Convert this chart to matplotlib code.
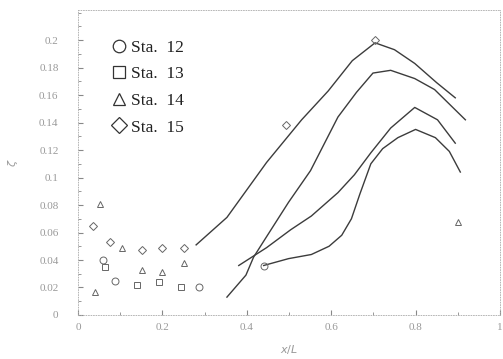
import numpy as np
import matplotlib.pyplot as plt
import matplotlib as mpl
from matplotlib.ticker import MultipleLocator

mpl.rcParams.update({'font.family': 'serif', 'font.serif': ['Liberation Serif'], 'font.size': 8})

# --- data (x/L, value) ---
# curves (right-hand part)
x12 = [0.44, 0.499, 0.553, 0.595, 0.625, 0.648, 0.668, 0.694, 0.722, 0.758, 0.80, 0.847, 0.88, 0.906]
y12 = [0.036, 0.041, 0.044, 0.050, 0.058, 0.070, 0.088, 0.110, 0.121, 0.129, 0.135, 0.129, 0.119, 0.104]

x13 = [0.353, 0.398, 0.416, 0.447, 0.499, 0.551, 0.616, 0.66, 0.699, 0.741, 0.798, 0.845, 0.918]
y13 = [0.013, 0.029, 0.042, 0.057, 0.082, 0.105, 0.144, 0.162, 0.176, 0.178, 0.172, 0.164, 0.142]

x14 = [0.381, 0.447, 0.504, 0.553, 0.616, 0.655, 0.694, 0.741, 0.798, 0.852, 0.894]
y14 = [0.036, 0.049, 0.062, 0.072, 0.089, 0.102, 0.118, 0.136, 0.151, 0.142, 0.125]

x15 = [0.28, 0.353, 0.447, 0.53, 0.593, 0.65, 0.704, 0.75, 0.798, 0.85, 0.894]
y15 = [0.051, 0.071, 0.111, 0.142, 0.163, 0.185, 0.198, 0.193, 0.183, 0.169, 0.158]

# loose points (upstream part, not joined)
sx12 = [0.059, 0.087, 0.287, 0.44]
sy12 = [0.040, 0.025, 0.020, 0.036]
sx13 = [0.064, 0.139, 0.193, 0.245]
sy13 = [0.035, 0.022, 0.024, 0.020]
sx14 = [0.04, 0.052, 0.104, 0.151, 0.20, 0.252, 0.90]
sy14 = [0.017, 0.081, 0.049, 0.033, 0.031, 0.038, 0.068]
sx15 = [0.035, 0.075, 0.151, 0.20, 0.252, 0.494, 0.704]
sy15 = [0.065, 0.053, 0.047, 0.049, 0.049, 0.138, 0.200]

labels = ['Sta.  12', 'Sta.  13', 'Sta.  14', 'Sta.  15']
markers = ['o', 's', '^', 'D']

fig = plt.figure(figsize=(5.03, 3.59), dpi=100)
ax = fig.add_axes([0.155, 0.1226, 0.839, 0.85])

ink = '#3c3c3c'
curves = [(x12, y12, sx12, sy12), (x13, y13, sx13, sy13), (x14, y14, sx14, sy14), (x15, y15, sx15, sy15)]
for (cx, cy, px, py), m, lab in zip(curves, markers, labels):
	ms = 5 if m != 'D' else 4.5
	ax.plot(cx, cy, '-', color=ink, lw=1.0)
	ax.plot(px, py, ls='none', marker=m, ms=ms, mfc='none', mec='#666666', mew=0.7)
	ax.plot([], [], ls='none', marker=m, ms=9 if m != 'D' else 8, mfc='none', mec='#333333', mew=0.9, label=lab)

ax.set_xlim(0, 1.0)
ax.set_ylim(0, 0.222)
ax.xaxis.set_minor_locator(MultipleLocator(0.1))
ax.yaxis.set_minor_locator(MultipleLocator(0.01))
ax.set_xticks(np.arange(0, 1.01, 0.2))
ax.set_xticklabels(['0', '0.2', '0.4', '0.6', '0.8', '1'])
ax.set_yticks(np.arange(0, 0.201, 0.02))
ax.set_yticklabels(['0', '0.02', '0.04', '0.06', '0.08', '0.1', '0.12', '0.14', '0.16', '0.18', '0.2'])
ax.tick_params(which='both', direction='in', colors='#888888', labelcolor='#999999')
ax.tick_params(axis='y', pad=14)
ax.tick_params(axis='x', pad=6)
for s in ax.spines.values():
	s.set_color('#aaaaaa')
	s.set_linewidth(0.6)
	s.set_linestyle((0, (1, 2)))

ax.set_xlabel('$x/L$', color='#999999', labelpad=8)
ax.set_ylabel(r'$\zeta$', color='#999999', labelpad=14)

leg = ax.legend(loc='upper left', bbox_to_anchor=(0.055, 0.925), frameon=False, fontsize=12.5,
	handletextpad=0.1, labelspacing=0.6, handlelength=1.2, borderaxespad=0)
for t in leg.get_texts(): t.set_color('#222222')

fig.savefig('out.png', dpi=100)
